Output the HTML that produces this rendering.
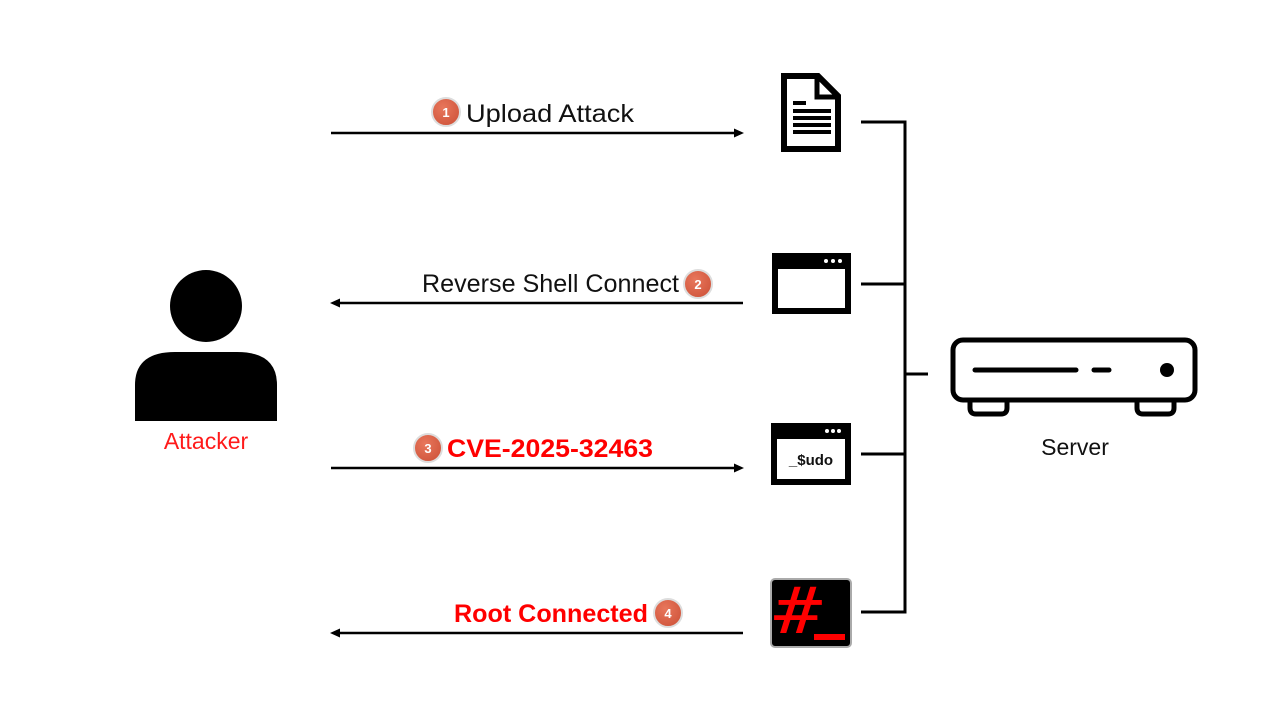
<!DOCTYPE html>
<html><head><meta charset="utf-8"><style>
html,body{margin:0;padding:0;background:#fff;width:1280px;height:720px;overflow:hidden}
svg{display:block}
text{font-family:"Liberation Sans",sans-serif}
</style></head><body>
<svg width="1280" height="720" viewBox="0 0 1280 720" xmlns="http://www.w3.org/2000/svg">
<defs>
<radialGradient id="bg" cx="0.4" cy="0.35" r="0.7"><stop offset="0" stop-color="#e8775c"/><stop offset="1" stop-color="#d0553c"/></radialGradient>
</defs>
<!-- Person -->
<circle cx="206" cy="306" r="36" fill="#000"/>
<path d="M135 421 L135 385 Q135 352 175 352 L237 352 Q277 352 277 385 L277 421 Z" fill="#000"/>
<text x="206" y="449" font-size="23" fill="#ff1a1a" text-anchor="middle">Attacker</text>

<!-- Arrows -->
<g stroke="#000" stroke-width="2.5">
<line x1="331" y1="133" x2="736" y2="133"/>
<line x1="338" y1="303" x2="743" y2="303"/>
<line x1="331" y1="468" x2="736" y2="468"/>
<line x1="338" y1="633" x2="743" y2="633"/>
</g>
<polygon points="744,133 734,128.5 734,137.5" fill="#000"/>
<polygon points="330,303 340,298.5 340,307.5" fill="#000"/>
<polygon points="744,468 734,463.5 734,472.5" fill="#000"/>
<polygon points="330,633 340,628.5 340,637.5" fill="#000"/>

<!-- Labels -->
<g font-size="13" font-weight="bold" fill="#fff" text-anchor="middle">
<circle cx="446" cy="112" r="14" fill="url(#bg)" stroke="#ddd" stroke-width="2"/><text x="446" y="117">1</text>
<circle cx="698" cy="284" r="14" fill="url(#bg)" stroke="#ddd" stroke-width="2"/><text x="698" y="289">2</text>
<circle cx="428" cy="448" r="14" fill="url(#bg)" stroke="#ddd" stroke-width="2"/><text x="428" y="453">3</text>
<circle cx="668" cy="613" r="14" fill="url(#bg)" stroke="#ddd" stroke-width="2"/><text x="668" y="618">4</text>
</g>
<text x="466" y="122" font-size="25" fill="#111" textLength="168" lengthAdjust="spacingAndGlyphs">Upload Attack</text>
<text x="422" y="292" font-size="25" fill="#111" textLength="257" lengthAdjust="spacingAndGlyphs">Reverse Shell Connect</text>
<text x="447" y="457" font-size="25" font-weight="bold" fill="#ff0000" textLength="206" lengthAdjust="spacingAndGlyphs">CVE-2025-32463</text>
<text x="454" y="622" font-size="25" font-weight="bold" fill="#ff0000" textLength="194" lengthAdjust="spacingAndGlyphs">Root Connected</text>

<!-- Document icon -->
<path d="M784 76 L818 76 L838 96 L838 149 L784 149 Z" fill="#fff" stroke="#000" stroke-width="6" stroke-linejoin="miter"/>
<path d="M817 76 L817 97 L838 97" fill="none" stroke="#000" stroke-width="5"/>
<g fill="#000">
<rect x="793" y="101" width="13" height="4"/>
<rect x="793" y="109" width="38" height="4"/>
<rect x="793" y="116" width="38" height="4"/>
<rect x="793" y="123" width="38" height="4"/>
<rect x="793" y="130" width="38" height="4"/>
</g>

<!-- Window icon 2 -->
<rect x="772" y="253" width="79" height="61" fill="#000"/>
<rect x="778" y="269" width="67" height="39" fill="#fff"/>
<g fill="#fff"><circle cx="826" cy="261" r="2"/><circle cx="833" cy="261" r="2"/><circle cx="840" cy="261" r="2"/></g>

<!-- Window icon 3 -->
<rect x="771" y="423" width="80" height="62" fill="#000"/>
<rect x="777" y="439" width="68" height="40" fill="#fff"/>
<g fill="#fff"><circle cx="827" cy="431" r="2"/><circle cx="833" cy="431" r="2"/><circle cx="839" cy="431" r="2"/></g>
<text x="811" y="465" font-size="15" font-weight="bold" fill="#111" text-anchor="middle">_$udo</text>

<!-- Root terminal icon -->
<rect x="771" y="579" width="80" height="68" rx="4" fill="#000" stroke="#aaa" stroke-width="2"/>
<text x="774" y="633" font-size="64" style="font-family:'DejaVu Sans Mono','Liberation Mono',monospace;font-weight:normal" fill="#ff0000" textLength="48" lengthAdjust="spacingAndGlyphs">#</text>
<rect x="814" y="634" width="31" height="6" fill="#ff0000"/>

<!-- Connectors -->
<g stroke="#000" stroke-width="3" fill="none">
<line x1="861" y1="122" x2="906" y2="122"/>
<line x1="861" y1="284" x2="906" y2="284"/>
<line x1="861" y1="454" x2="906" y2="454"/>
<line x1="861" y1="612" x2="906" y2="612"/>
<line x1="905" y1="120.5" x2="905" y2="613.5"/>
<line x1="905" y1="374" x2="928" y2="374"/>
</g>

<!-- Server -->
<g stroke="#000" stroke-width="5" fill="none" stroke-linecap="round">
<path d="M970 401 L970 408 Q970 414 976 414 L1001 414 Q1007 414 1007 408 L1007 401"/>
<path d="M1137 401 L1137 408 Q1137 414 1143 414 L1168 414 Q1174 414 1174 408 L1174 401"/>
<rect x="953" y="340" width="242" height="60" rx="10" fill="#fff"/>
<line x1="975" y1="370" x2="1076" y2="370"/>
<line x1="1094" y1="370" x2="1109" y2="370"/>
</g>
<circle cx="1167" cy="370" r="7" fill="#000"/>
<text x="1075" y="455" font-size="23" fill="#111" text-anchor="middle">Server</text>
</svg>
</body></html>
